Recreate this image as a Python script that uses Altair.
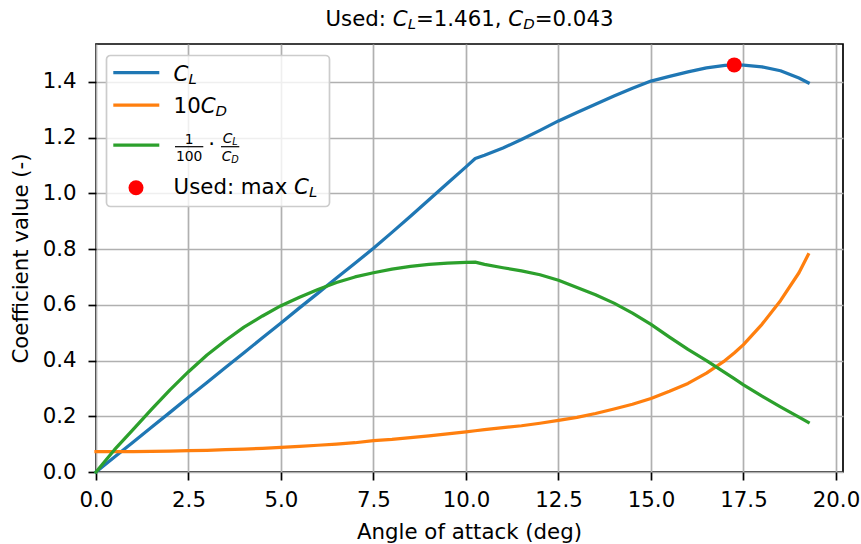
import altair as alt
import pandas as pd

# ---------------- data ----------------
alpha = [0, 0.5, 1, 1.5, 2, 2.5, 3, 3.5, 4, 4.5, 5, 5.5, 6, 6.5, 7, 7.5, 8, 8.5, 9, 9.5,
         10, 10.25, 10.5, 11, 11.5, 12, 12.5, 13, 13.5, 14, 14.5, 15, 15.5, 16, 16.5, 17,
         17.25, 17.5, 18, 18.5, 19, 19.25]
cl = [0.0, 0.054, 0.107, 0.161, 0.214, 0.268, 0.321, 0.375, 0.428, 0.482, 0.535, 0.589,
      0.642, 0.696, 0.749, 0.803, 0.860, 0.918, 0.977, 1.036, 1.095, 1.125, 1.137, 1.163,
      1.193, 1.226, 1.260, 1.290, 1.320, 1.349, 1.377, 1.403, 1.420, 1.436, 1.450, 1.459,
      1.461, 1.460, 1.454, 1.440, 1.414, 1.397]
cd10 = [0.073, 0.0732, 0.0735, 0.074, 0.075, 0.077, 0.078, 0.080, 0.082, 0.085, 0.088,
        0.092, 0.096, 0.100, 0.105, 0.113, 0.117, 0.123, 0.130, 0.137, 0.144, 0.148, 0.152,
        0.159, 0.166, 0.175, 0.185, 0.196, 0.210, 0.226, 0.243, 0.264, 0.290, 0.318, 0.355,
        0.400, 0.427, 0.457, 0.530, 0.615, 0.715, 0.780]
ratio = [0.0, 0.080, 0.152, 0.225, 0.295, 0.360, 0.420, 0.472, 0.520, 0.560, 0.597, 0.627,
         0.655, 0.680, 0.700, 0.715, 0.728, 0.738, 0.745, 0.750, 0.752, 0.753, 0.745, 0.733,
         0.722, 0.708, 0.688, 0.662, 0.636, 0.606, 0.570, 0.530, 0.484, 0.440, 0.400, 0.357,
         0.335, 0.313, 0.272, 0.234, 0.197, 0.178]
used_alpha = [17.25]
used_cl = [1.461]
used_cd = 0.043

x_ticks = [0.0, 2.5, 5.0, 7.5, 10.0, 12.5, 15.0, 17.5, 20.0]
y_ticks = [0.0, 0.2, 0.4, 0.6, 0.8, 1.0, 1.2, 1.4]

# ---------------- style ----------------
FONT = "DejaVu Sans"
FS = 21.3
LW = 3.25
W, H = 747, 428
BLUE, ORANGE, GREEN = "#1f77b4", "#ff7f0e", "#2ca02c"

df = pd.DataFrame({"alpha": alpha, "cl": cl, "cd10": cd10, "ratio": ratio})
pt = pd.DataFrame({"alpha": used_alpha, "cl": used_cl})

xs = alt.Scale(domain=[0, 20.19], nice=False, zero=False)
ys = alt.Scale(domain=[0, 1.536], nice=False, zero=False)
xaxis = alt.Axis(values=x_ticks, format=".1f", title="Angle of attack (deg)",
                 labelBaseline="alphabetic", labelPadding=26.5,
                 titleX=373, titleY=66, titleBaseline="alphabetic", titleAlign="center",
                 labelFlush=False)
yaxis = alt.Axis(values=y_ticks, format=".1f", title="Coefficient value (-)",
                 labelPadding=12, labelBaseline="middle",
                 titleX=-68.5, titleY=H / 2, titleAngle=270, titleAlign="center",
                 titleBaseline="alphabetic", labelFlush=False)


def X():
    return alt.X("alpha:Q", scale=xs, axis=xaxis)


def Y(field):
    return alt.Y(f"{field}:Q", scale=ys, axis=yaxis)


base = alt.Chart(df)
blue = base.mark_line(color=BLUE, strokeWidth=LW, strokeCap="square", strokeJoin="round").encode(x=X(), y=Y("cl"))
orange = base.mark_line(color=ORANGE, strokeWidth=LW, strokeCap="square", strokeJoin="round").encode(x=X(), y=Y("cd10"))
green = base.mark_line(color=GREEN, strokeWidth=LW, strokeCap="square", strokeJoin="round").encode(x=X(), y=Y("ratio"))
dot = alt.Chart(pt).mark_point(filled=True, color="red", size=225, opacity=1).encode(x=X(), y=Y("cl"))

# ---------------- text helpers (legend / title with sub-scripts) ----------------
ONE = alt.Data(values=[{"k": 0}])
ADV = {" ": 651, ".": 651, ",": 651, ":": 690, "=": 1716, "U": 1499, "s": 1067, "e": 1260,
       "d": 1300, "m": 1995, "a": 1255, "x": 1212, "C": 1430, "L": 1141, "D": 1577}
for c in "0123456789":
    ADV[c] = 1303


def tw(s, size):
    return sum(ADV.get(c, 1200) for c in s) / 2048 * size


def text(s, x, y, size, italic=False, align="left", baseline="alphabetic"):
    return alt.Chart(ONE).mark_text(text=s, font=FONT, fontSize=size,
                                    fontStyle="italic" if italic else "normal",
                                    align=align, baseline=baseline, color="black").encode(
        x=alt.value(x), y=alt.value(y))


def seg_props(kind, size):
    if kind == "n":
        return size, 0.0, False
    if kind == "i":
        return size, 0.0, True
    return 0.7 * size, 0.15 * size, True  # subscript


def rich_width(segs, size):
    return sum(tw(s, seg_props(k, size)[0]) for s, k in segs)


def rich(segs, x0, y0, size):
    out = []
    x = x0
    for s, k in segs:
        fs, dy, it = seg_props(k, size)
        out.append(text(s, x, y0 + dy, fs, it))
        x += tw(s, fs)
    return out


def rule(x1, x2, y, color, width):
    return alt.Chart(ONE).mark_rule(color=color, strokeWidth=width).encode(
        x=alt.value(x1), x2=alt.value(x2), y=alt.value(y))


# title
title_segs = [("Used: ", "n"), ("C", "i"), ("L", "s"), (f"={used_cl[0]:.3f}, ", "n"),
              ("C", "i"), ("D", "s"), (f"={used_cd:.3f}", "n")]
tw_total = rich_width(title_segs, FS)
title_layers = rich(title_segs, W / 2 - tw_total / 2, -18.3, FS)

# legend
box = alt.Chart(ONE).mark_rect(fill="white", fillOpacity=0.8, stroke="#cccccc",
                               strokeWidth=1.7, cornerRadius=4).encode(
    x=alt.value(10.5), x2=alt.value(233.5), y=alt.value(11.5), y2=alt.value(162.5))
LX1, LX2, TX = 17.3, 63.3, 77.6
leg = [box,
       rule(LX1, LX2, 28.7, BLUE, LW),
       rule(LX1, LX2, 61, ORANGE, LW),
       rule(LX1, LX2, 101, GREEN, LW),
       alt.Chart(ONE).mark_point(filled=True, color="red", size=225, opacity=1).encode(
           x=alt.value(40), y=alt.value(143.7))]
leg += rich([("C", "i"), ("L", "s")], TX, 36.7, FS)
leg += rich([("10", "n"), ("C", "i"), ("D", "s")], TX, 69.3, FS)
leg += rich([("Used: max ", "n"), ("C", "i"), ("L", "s")], TX, 150, FS)
# fraction entry: 1/100 · C_L/C_D
FS2 = 0.65 * FS
NUM_Y, DEN_Y, BAR_Y = 100.0, 116.6, 102.7
leg += [text("1", 93.2, NUM_Y, FS2, align="center"),
        rule(79, 107.3, BAR_Y, "black", 1.2),
        text("100", 93.2, DEN_Y, FS2, align="center"),
        text("·", 115.7, 101, FS, align="center", baseline="middle"),
        rule(125, 143.3, BAR_Y, "black", 1.2)]
num = [("C", "i"), ("L", "s")]
den = [("C", "i"), ("D", "s")]
leg += rich(num, 134.2 - rich_width(num, FS2) / 2, NUM_Y - 1.5, FS2)
leg += rich(den, 134.2 - rich_width(den, FS2) / 2, DEN_Y, FS2)

chart = alt.layer(blue, orange, green, dot, *leg, *title_layers).properties(
    width=W, height=H,
    padding={"left": 96, "top": 44, "right": 18, "bottom": 72},
    autosize=alt.AutoSizeParams(type="none"),
    background="white",
).configure_view(stroke="black", strokeWidth=1.7).configure_axis(
    labelFont=FONT, labelFontSize=FS, labelColor="black",
    titleFont=FONT, titleFontSize=FS, titleColor="black", titleFontWeight="normal",
    tickColor="black", tickSize=8, tickWidth=1.7,
    gridColor="#b0b0b0", gridWidth=1.7, gridOpacity=1, domain=False,
)

chart.save("out.html", embed_options={"renderer": "svg", "actions": False})
